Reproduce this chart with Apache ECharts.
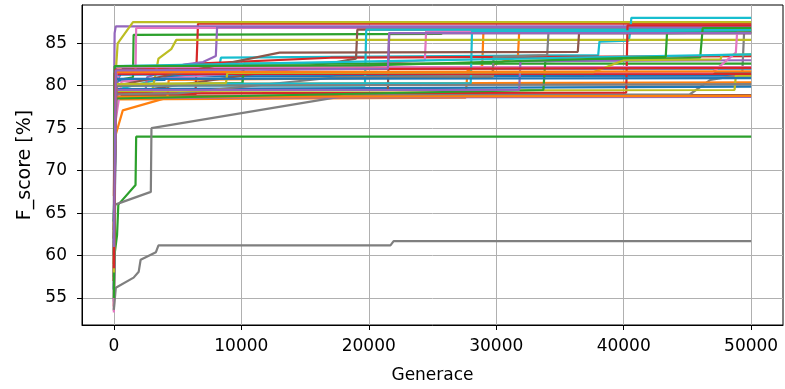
<!DOCTYPE html>
<html>
<head>
<meta charset="utf-8">
<script src="https://cdn.jsdelivr.net/npm/echarts@6/dist/echarts.min.js"></script>
<style>
html,body{margin:0;padding:0;background:#fff;}
#chart{width:785px;height:389px;}
</style>
</head>
<body>
<div id="chart"></div>
<script>
// ---- data: [generation, F_score %] breakpoints per run ----
const xTicks = [0, 10000, 20000, 30000, 40000, 50000];
const yTicks = [55, 60, 65, 70, 75, 80, 85];

const b1 = [[0,54.6],[40,62.0],[80,66.5],[160,80.2],[700,82.0],[50000,82.0]];
const o1 = [[0,67.0],[80,78.4],[27600,78.6],[27750,81.8],[28900,82.3],[29000,86.6],[50000,86.6]];
const g1 = [[0,60.0],[100,80.6],[1500,81.0],[1550,86.0],[25700,86.1],[25800,86.5],[50000,86.5]];
const r1 = [[0,54.0],[80,78.9],[6400,78.9],[6600,87.3],[50000,87.3]];
const p1 = [[0,60.0],[20,80.0],[60,86.2],[150,87.0],[50000,87.0]];
const br1 = [[0,53.5],[30,56.5],[100,78.8],[50000,78.9]];
const pk1 = [[0,53.3],[100,77.0],[400,81.5],[1700,81.6],[1750,86.8],[50000,86.8]];
const gy1 = [[0,53.6],[150,56.2],[1550,57.4],[1950,58.1],[2100,59.5],[2900,60.1],[3300,60.4],[3500,61.2],[21700,61.2],[21950,61.7],[50000,61.7]];
const ol1 = [[0,57.0],[80,80.0],[300,85.0],[1500,87.5],[50000,87.5]];
const c1 = [[0,62.0],[100,79.5],[8300,82.5],[8400,83.3],[38000,83.6],[38100,85.2],[40400,85.3],[40500,86.2],[40600,88.0],[50000,88.0]];

const b2 = [[0,57.5],[90,76.0],[250,80.6],[4000,80.7],[4100,81.1],[50000,81.2]];
const o2 = [[0,62.0],[100,74.0],[700,77.1],[4200,78.6],[4300,80.7],[29700,81.0],[29800,82.5],[31700,83.4],[31800,86.3],[50000,86.3]];
const g2 = [[0,59.5],[250,62.4],[350,66.0],[1700,68.3],[1750,74.0],[50000,74.0]];
const r2 = [[0,57.0],[60,81.5],[6500,82.6],[17000,83.3],[50000,83.5]];
const p2 = [[0,58.0],[100,79.5],[2500,79.6],[2600,81.0],[5500,82.5],[7000,82.8],[8000,83.5],[8100,86.9],[50000,86.9]];
const br2 = [[0,59.0],[100,79.0],[17500,82.8],[19000,83.2],[19100,86.6],[50000,86.6]];
const pk2 = [[0,60.0],[100,75.5],[600,80.5],[24400,83.0],[24500,86.4],[50000,86.4]];
const gy2 = [[0,56.0],[100,66.0],[2900,67.5],[2950,75.0],[18500,78.9],[45200,79.0],[46800,80.7],[49300,81.3],[49450,86.4],[50000,86.4]];
const ol2 = [[0,60.0],[100,79.1],[3000,79.3],[3500,83.2],[4500,84.3],[4900,85.4],[50000,85.4]];
const c2 = [[0,59.0],[150,80.0],[19700,80.0],[19800,86.6],[50000,86.6]];

const b3 = [[0,56.0],[120,79.6],[50000,79.9]];
const o3 = [[0,57.0],[50,70.0],[200,80.2],[50000,80.4]];
const g3 = [[0,64.0],[150,80.0],[10100,80.3],[10200,82.6],[50000,82.6]];
const r3 = [[0,60.0],[150,79.1],[40200,79.2],[40300,87.1],[50000,87.1]];
const p3 = [[0,56.0],[120,78.6],[50000,78.7]];
const br3 = [[0,57.0],[120,79.5],[21500,79.5],[21600,86.2],[50000,86.2]];
const pk3 = [[0,58.0],[150,82.2],[50000,82.2]];
const gy3 = [[0,57.5],[100,79.0],[5000,79.1],[17500,81.0],[29700,81.2],[29800,83.4],[34000,83.6],[34100,86.3],[50000,86.3]];
const ol3 = [[0,62.0],[150,79.4],[48700,79.5],[48800,81.2],[50000,81.2]];
const c3 = [[0,64.0],[200,80.2],[28000,80.3],[28100,86.4],[50000,86.4]];

const b4 = [[0,61.5],[200,81.3],[50000,81.6]];
const o4 = [[0,59.0],[100,78.7],[50000,78.8]];
const g4 = [[0,55.0],[100,78.5],[33700,79.5],[33850,82.9],[46000,83.3],[46200,86.8],[50000,86.8]];
const r4 = [[0,62.0],[100,81.4],[50000,81.4]];
const p4 = [[0,63.0],[100,79.5],[31800,79.5],[31900,82.9],[50000,83.0]];
const br4 = [[0,60.0],[200,80.0],[13000,83.9],[36400,84.0],[36500,86.2],[50000,86.2]];
const pk4 = [[0,63.0],[200,81.6],[47000,81.6],[48800,83.9],[48900,86.3],[50000,86.3]];
const gy4 = [[0,62.0],[150,80.0],[50000,80.2]];
const ol4 = [[0,58.0],[100,80.2],[8800,80.3],[8900,81.5],[37600,81.6],[40000,83.0],[47600,83.1],[47700,83.6],[50000,83.7]];
const c4 = [[0,60.0],[100,82.3],[50000,83.7]];

const b5 = [[0,64.0],[150,80.8],[50000,80.9]];
const o5 = [[0,63.0],[150,81.6],[50000,81.7]];
const g5 = [[0,63.0],[60,82.3],[20000,82.4],[43300,83.4],[43400,86.2],[50000,86.3]];
const r5 = [[0,58.5],[120,81.9],[50000,82.1]];
const p5 = [[0,61.0],[150,81.8],[21500,82.0],[21600,86.2],[50000,86.2]];

const runs = [
  b1,o1,g1,r1,p1,br1,pk1,gy1,ol1,c1,
  b2,o2,g2,r2,p2,br2,pk2,gy2,ol2,c2,
  b3,o3,g3,r3,p3,br3,pk3,gy3,ol3,c3,
  b4,o4,g4,r4,p4,br4,pk4,gy4,ol4,c4,
  b5,o5,g5,r5,p5
];
const palette = ['#1f77b4','#ff7f0e','#2ca02c','#d62728','#9467bd','#8c564b','#e377c2','#7f7f7f','#bcbd22','#17becf'];

const chart = echarts.init(document.getElementById('chart'), null, {renderer:'canvas'});
const font = 'DejaVu Sans';
const option = {
  animation: false,
  backgroundColor: '#fff',
  grid: {left: 82, right: 2, top: 5, bottom: 64, show: true, borderColor: '#000', borderWidth: 1, backgroundColor: 'transparent'},
  xAxis: {
    type: 'value', min: -2500, max: 52500,
    name: 'Generace', nameLocation: 'middle', nameGap: 42,
    nameTextStyle: {fontFamily: font, fontSize: 17, color: '#000'},
    axisLine: {show: true, onZero: false, lineStyle: {color: '#000', width: 1}},
    axisTick: {show: true, length: 5, customValues: xTicks, lineStyle: {color: '#000'}},
    axisLabel: {customValues: xTicks, margin: 13, fontFamily: font, fontSize: 17, color: '#000', formatter: v => String(v)},
    splitLine: {show: true, lineStyle: {color: '#b0b0b0', width: 1}}
  },
  yAxis: {
    type: 'value', min: 51.82, max: 89.51,
    name: 'F_score [%]', nameLocation: 'middle', nameGap: 47, nameRotate: 90,
    nameTextStyle: {fontFamily: font, fontSize: 19, color: '#000'},
    axisLine: {show: true, onZero: false, lineStyle: {color: '#000', width: 1}},
    axisTick: {show: true, length: 5, customValues: yTicks, lineStyle: {color: '#000'}},
    axisLabel: {customValues: yTicks, margin: 15, fontFamily: font, fontSize: 17, color: '#000'},
    splitLine: {show: true, lineStyle: {color: '#b0b0b0', width: 1}}
  },
  series: runs.map((d, i) => ({
    type: 'line', data: d, showSymbol: false, symbol: 'none', clip: true,
    lineStyle: {width: 2.2, color: palette[i % 10]}, itemStyle: {color: palette[i % 10]},
    emphasis: {disabled: true}, z: 2
  }))
};
chart.setOption(option);
</script>
</body>
</html>
